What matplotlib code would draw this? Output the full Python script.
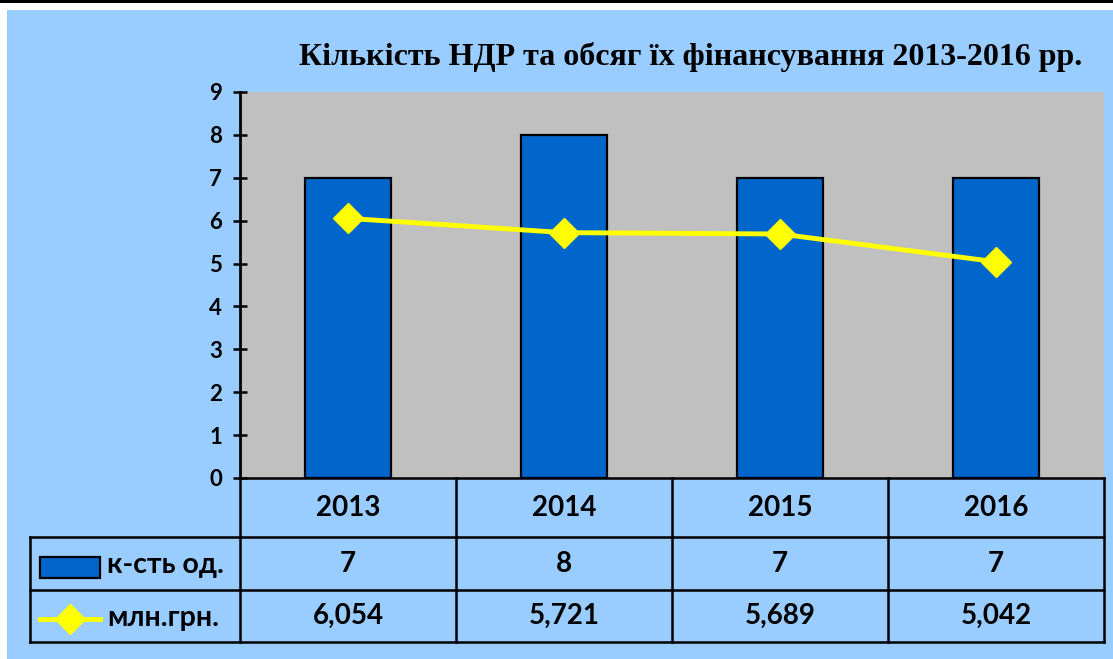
import matplotlib
matplotlib.use('Agg')
import matplotlib.pyplot as plt
from matplotlib.patches import Rectangle
from matplotlib.lines import Line2D

# data
years = ['2013', '2014', '2015', '2016']
counts = [7, 8, 7, 7]
funding = [6.054, 5.721, 5.689, 5.042]
funding_labels = ['6,054', '5,721', '5,689', '5,042']
row_names = ['к-сть од.', 'млн.грн.']
title = 'Кількість НДР та обсяг їх фінансування 2013-2016 рр.'
y_ticks = list(range(10))

bg = '#99CCFF'
bar_color = '#0066CC'
plot_bg = '#C0C0C0'
line_color = '#FFFF00'

plt.rcParams['font.family'] = ['Lato', 'DejaVu Sans']
plt.rcParams['font.weight'] = 'bold'

W, H = 1113, 659
fig = plt.figure(figsize=(W / 100, H / 100), dpi=100, facecolor='white')


def fx(px):
    return px / W


def fy(py):
    return 1 - py / H


# background panel and top rule
fig.patches.append(Rectangle((fx(7), 0), 1 - fx(7), fy(10), transform=fig.transFigure,
                             facecolor=bg, edgecolor='none', zorder=-5))
fig.patches.append(Rectangle((0, fy(3)), 1, fy(0) - fy(3), transform=fig.transFigure,
                             facecolor='black', edgecolor='none', zorder=-5))

fig.text(fx(691), fy(57), title, ha='center', va='center', fontsize=23,
         fontweight='bold', family='Liberation Serif')

# main chart
left, right, top, bottom = 240, 1104, 92, 478
ax = fig.add_axes([fx(left), fy(bottom), fx(right - left), fy(top) - fy(bottom)])
ax.set_facecolor(plot_bg)
x = list(range(len(years)))
ax.bar(x, counts, width=0.4, color=bar_color, edgecolor='black', linewidth=1.6, zorder=2)
ax.plot(x, funding, color=line_color, lw=3.5, marker='D', markersize=15,
        markeredgecolor=line_color, zorder=3)
ax.set_xlim(-0.5, len(years) - 0.5)
ax.set_ylim(0, 9)
ax.set_yticks(y_ticks)
ax.set_xticks([])
for s in ['top', 'right', 'bottom']:
    ax.spines[s].set_visible(False)
ax.spines['left'].set_linewidth(2)
ax.tick_params(axis='y', direction='inout', length=10, width=1.8, pad=8, labelsize=16)

# data table below the chart
tleft = 30
cat_px = (right - left) / len(years)
tab = fig.add_axes([fx(tleft), fy(642), fx(right - tleft), fy(bottom) - fy(642)])
tab.set_xlim(-0.5 - (left - tleft) / cat_px, len(years) - 0.5)
tab.set_ylim(642 - bottom, 0)
tab.axis('off')
tab.patch.set_alpha(0)

rows = [0, 59, 112, 164]
lw = 1.8
x0 = -0.5 - (left - tleft) / cat_px
for i in range(len(years) + 1):
    tab.plot([i - 0.5, i - 0.5], [rows[0], rows[-1]], color='black', lw=lw, clip_on=False)
tab.plot([x0, x0], [rows[1], rows[-1]], color='black', lw=lw, clip_on=False)
tab.plot([-0.5, len(years) - 0.5], [rows[0], rows[0]], color='black', lw=lw, clip_on=False)
for r in rows[1:]:
    tab.plot([x0, len(years) - 0.5], [r, r], color='black', lw=lw, clip_on=False)

font = dict(fontsize=20, fontweight='bold', ha='center', va='center')
for i, yr in enumerate(years):
    tab.text(i, (rows[0] + rows[1]) / 2, yr, **font)
    tab.text(i, (rows[1] + rows[2]) / 2, str(counts[i]), **font)
    tab.text(i, (rows[2] + rows[3]) / 2, funding_labels[i], **font)

# legend keys in the table
fig.patches.append(Rectangle((fx(40), fy(578)), fx(60), fy(557) - fy(578), transform=fig.transFigure,
                             facecolor=bar_color, edgecolor='black', linewidth=1.6, zorder=3))
fig.lines.append(Line2D([fx(40), fx(100)], [fy(619), fy(619)], transform=fig.transFigure,
                        color=line_color, lw=3.5, zorder=3))
fig.lines.append(Line2D([fx(70)], [fy(619)], transform=fig.transFigure, marker='D',
                        markersize=15, color=line_color, zorder=3))
fig.text(fx(107), fy(565), row_names[0], fontsize=20.5, fontweight='bold',
         ha='left', va='center')
fig.text(fx(107), fy(618), row_names[1], fontsize=20.5, fontweight='bold',
         ha='left', va='center')

fig.savefig('out.png', dpi=100, facecolor='white')
